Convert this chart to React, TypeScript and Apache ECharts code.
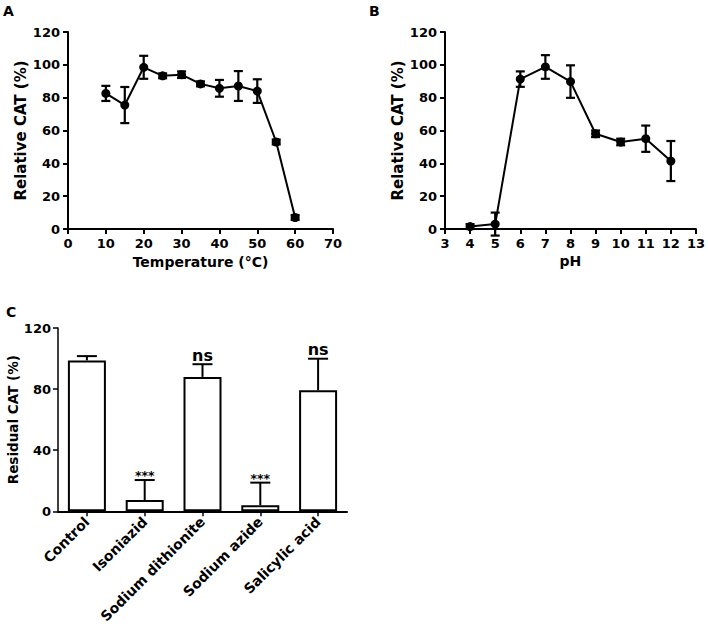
import React, { useEffect, useRef } from "react";
import * as echarts from "echarts";

// Panel A: temperature
const tempX = [10, 15, 20, 25, 30, 35, 40, 45, 50, 55, 60];
const tempY = [82.6, 75.5, 98.5, 93.3, 94, 88.4, 85.7, 87.1, 84, 53, 7];
const tempErr = [4.6, 11, 7, 1.5, 2, 1.5, 5.1, 9.1, 7.2, 1.5, 1.5];
const tempTicksX = { min: 0, max: 70, interval: 10 };

// Panel B: pH
const phX = [4, 5, 6, 7, 8, 9, 10, 11, 12];
const phY = [1.5, 3, 91.3, 98.7, 89.8, 58, 53, 55, 41.4];
const phErr = [1.5, 7, 4.7, 7.2, 9.9, 2, 2, 8, 12.2];
const phTicksX = { min: 3, max: 13, interval: 1 };

// Panel C: inhibitors
const inhibitors = ["Control", "Isoniazid", "Sodium dithionite", "Sodium azide", "Salicylic acid"];
const residual = [98.8, 7.4, 88, 4, 79.2];
const residualErr = [2.8, 13.1, 8.3, 14.8, 20.7];
const significance = ["", "***", "ns", "***", "ns"];

const FONT = "DejaVu Sans";
const BLACK = "#000";

function symErrorRender(params: any, api: any) {
  const x = api.value(0);
  const y = api.value(1);
  const e = api.value(2);
  const top = api.coord([x, y + e]);
  const bot = api.coord([x, y - e]);
  const hw = 4.5;
  const st = { stroke: BLACK, lineWidth: 2.2 };
  return {
    type: "group",
    children: [
      { type: "line", shape: { x1: top[0], y1: top[1], x2: bot[0], y2: bot[1] }, style: st },
      { type: "line", shape: { x1: top[0] - hw, y1: top[1], x2: top[0] + hw, y2: top[1] }, style: st },
      { type: "line", shape: { x1: bot[0] - hw, y1: bot[1], x2: bot[0] + hw, y2: bot[1] }, style: st },
    ],
  };
}

function upErrorRender(params: any, api: any) {
  const x = api.value(0);
  const y = api.value(1);
  const e = api.value(2);
  const base = api.coord([x, y]);
  const top = api.coord([x, y + e]);
  const hw = 10;
  const st = { stroke: BLACK, lineWidth: 2 };
  const mark = significance[params.dataIndex];
  const children: any[] = [
    { type: "line", shape: { x1: base[0], y1: base[1], x2: top[0], y2: top[1] }, style: st },
    { type: "line", shape: { x1: top[0] - hw, y1: top[1], x2: top[0] + hw, y2: top[1] }, style: st },
  ];
  if (mark) {
    const isStar = mark.indexOf("*") >= 0;
    children.push({
      type: "text",
      x: top[0],
      y: isStar ? top[1] + 2 : top[1] - 1,
      style: {
        text: mark,
        fill: BLACK,
        align: "center",
        verticalAlign: "bottom",
        font: isStar ? `bold 12.5px "${FONT}"` : `bold 16px "${FONT}"`,
      },
    });
  }
  return { type: "group", children };
}

const axisLineStyle = (w: number) => ({ show: true, lineStyle: { color: BLACK, width: w } });
const tickStyle = (w: number) => ({ show: true, length: 5, lineStyle: { color: BLACK, width: w } });
const labelStyle = (size: number, margin: number) => ({
  color: BLACK,
  fontFamily: FONT,
  fontWeight: "bold" as const,
  fontSize: size,
  margin,
});

export default function App() {
  const ref = useRef<HTMLDivElement>(null);
  useEffect(() => {
    if (!ref.current) return;
    const chart = echarts.init(ref.current, null, { renderer: "svg" });
    const option: any = {
      animation: false,
      textStyle: { fontFamily: FONT },
      grid: [
        { left: 68, top: 32, width: 265, height: 197 },
        { left: 445, top: 32, width: 252, height: 197 },
        { left: 58, top: 328, width: 289, height: 189 },
      ],
      xAxis: [
        {
          gridIndex: 0,
          type: "value",
          ...tempTicksX,
          name: "Temperature (°C)",
          nameLocation: "middle",
          nameGap: 26,
          nameTextStyle: { color: BLACK, fontFamily: FONT, fontWeight: "bold", fontSize: 14 },
          axisLine: axisLineStyle(2),
          axisTick: tickStyle(2),
          axisLabel: labelStyle(13, 8),
          splitLine: { show: false },
        },
        {
          gridIndex: 1,
          type: "value",
          ...phTicksX,
          name: "pH",
          nameLocation: "middle",
          nameGap: 25,
          nameTextStyle: { color: BLACK, fontFamily: FONT, fontWeight: "bold", fontSize: 14 },
          axisLine: axisLineStyle(2),
          axisTick: tickStyle(2),
          axisLabel: labelStyle(13, 8),
          splitLine: { show: false },
        },
        {
          gridIndex: 2,
          type: "category",
          data: inhibitors,
          boundaryGap: true,
          axisLine: axisLineStyle(2),
          axisTick: { ...tickStyle(1.5), alignWithLabel: true },
          axisLabel: { ...labelStyle(14, 8), rotate: 45, interval: 0 },
        },
      ],
      yAxis: [
        {
          gridIndex: 0,
          type: "value",
          min: 0,
          max: 120,
          interval: 20,
          name: "Relative CAT (%)",
          nameLocation: "middle",
          nameGap: 40,
          nameTextStyle: { color: BLACK, fontFamily: FONT, fontWeight: "bold", fontSize: 15 },
          axisLine: axisLineStyle(2),
          axisTick: tickStyle(2),
          axisLabel: labelStyle(13, 8),
          splitLine: { show: false },
        },
        {
          gridIndex: 1,
          type: "value",
          min: 0,
          max: 120,
          interval: 20,
          name: "Relative CAT (%)",
          nameLocation: "middle",
          nameGap: 39,
          nameTextStyle: { color: BLACK, fontFamily: FONT, fontWeight: "bold", fontSize: 15 },
          axisLine: axisLineStyle(2),
          axisTick: tickStyle(2),
          axisLabel: labelStyle(13, 8),
          splitLine: { show: false },
        },
        {
          gridIndex: 2,
          type: "value",
          min: 0,
          max: 120,
          interval: 40,
          name: "Residual CAT (%)",
          nameLocation: "middle",
          nameGap: 27,
          nameTextStyle: { color: BLACK, fontFamily: FONT, fontWeight: "bold", fontSize: 13.5 },
          axisLine: axisLineStyle(1.5),
          axisTick: tickStyle(1.5),
          axisLabel: labelStyle(13, 7),
          splitLine: { show: false },
        },
      ],
      graphic: [
        { type: "text", left: 3, top: 4, style: { text: "A", fill: BLACK, font: `bold 14px "${FONT}"` } },
        { type: "text", left: 369, top: 4, style: { text: "B", fill: BLACK, font: `bold 14px "${FONT}"` } },
        { type: "text", left: 6, top: 305, style: { text: "C", fill: BLACK, font: `bold 14px "${FONT}"` } },
      ],
      series: [
        {
          type: "custom",
          xAxisIndex: 0,
          yAxisIndex: 0,
          renderItem: symErrorRender,
          data: tempX.map((x, i) => [x, tempY[i], tempErr[i]]),
          encode: { x: 0, y: [1, 2] },
          z: 3,
        },
        {
          type: "line",
          xAxisIndex: 0,
          yAxisIndex: 0,
          data: tempX.map((x, i) => [x, tempY[i]]),
          symbol: "circle",
          symbolSize: 9,
          itemStyle: { color: BLACK },
          lineStyle: { color: BLACK, width: 2 },
          z: 4,
        },
        {
          type: "custom",
          xAxisIndex: 1,
          yAxisIndex: 1,
          renderItem: symErrorRender,
          data: phX.map((x, i) => [x, phY[i], phErr[i]]),
          encode: { x: 0, y: [1, 2] },
          z: 3,
        },
        {
          type: "line",
          xAxisIndex: 1,
          yAxisIndex: 1,
          data: phX.map((x, i) => [x, phY[i]]),
          symbol: "circle",
          symbolSize: 9,
          itemStyle: { color: BLACK },
          lineStyle: { color: BLACK, width: 2 },
          z: 4,
        },
        {
          type: "bar",
          xAxisIndex: 2,
          yAxisIndex: 2,
          data: residual,
          barWidth: 38,
          itemStyle: { color: "#fff", borderColor: BLACK, borderWidth: 2 },
          z: 2,
        },
        {
          type: "custom",
          xAxisIndex: 2,
          yAxisIndex: 2,
          renderItem: upErrorRender,
          data: inhibitors.map((c, i) => [i, residual[i], residualErr[i]]),
          encode: { x: 0, y: [1, 2] },
          z: 3,
        },
      ],
    };
    chart.setOption(option);
    return () => chart.dispose();
  }, []);
  return (
    <div
      ref={ref}
      style={{ position: "absolute", left: 0, top: 0, width: 708, height: 626, background: "#fff" }}
    />
  );
}
